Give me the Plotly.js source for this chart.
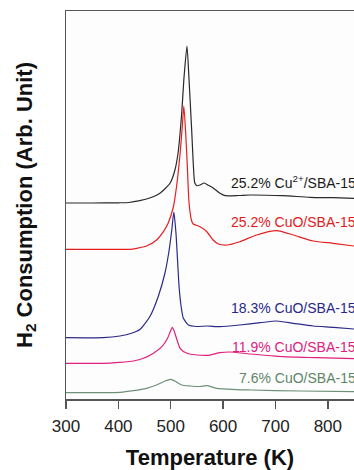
<!DOCTYPE html>
<html>
<head>
<meta charset="utf-8">
<script src="https://cdn.plot.ly/plotly-3.0.1.min.js"></script>
<style>html,body{margin:0;padding:0;background:#fff;}#chart{width:354px;height:470px;}</style>
</head>
<body>
<div id="chart"></div>
<script>
// Temperatures (K) and H2 consumption (arbitrary units, stacked offsets included)
const tCu2 = [300, 350, 400, 420, 441, 460, 480, 499, 508, 514, 521, 525, 531, 535, 540, 543, 546, 550, 556, 564, 572, 581, 594, 604, 630, 651, 714, 766, 810, 850];
const hCu2 = [196, 196, 196.2, 196.5, 198.3, 201, 206, 216, 229, 246, 286, 319, 353, 319, 269, 236, 216, 213.3, 214, 216, 213.7, 211, 205.7, 203.3, 203.5, 204, 203.3, 201.7, 201.3, 200.7];

const tCuO252 = [300, 350, 400, 422, 435, 454, 473, 486, 495, 505, 511, 518, 522, 525, 529, 532, 535, 540, 543, 556, 569, 581, 591, 607, 632, 664, 702, 734, 772, 810, 850];
const hCuO252 = [149.7, 149.7, 149.7, 149.7, 150.7, 153, 159, 167.3, 175.7, 192, 212, 246, 272, 293, 262, 229, 196, 178, 175, 172.3, 167.3, 159, 155, 154, 157.3, 164, 168.3, 164, 158, 155.7, 153];

const tCuO183 = [300, 371, 403, 425, 441, 460, 476, 489, 497, 502, 506, 510, 513, 516, 520, 524, 534, 550, 569, 594, 632, 671, 702, 734, 772, 811, 850];
const hCuO183 = [61.3, 61.3, 63, 65.7, 69.5, 82.3, 102.3, 126, 149, 169, 187, 166, 139, 112, 92, 81, 74, 72.5, 73, 72.3, 74, 76.3, 78, 75.7, 73, 71.7, 70];

const tCuO119 = [300, 371, 403, 429, 448, 467, 483, 494, 499, 503, 507, 512, 518, 531, 550, 572, 594, 613, 652, 715, 779, 850];
const hCuO119 = [35.7, 35.7, 36.7, 38, 40.7, 45.7, 52.3, 60.7, 67.3, 71.7, 67.3, 59, 50.7, 45.7, 44, 43.7, 46.3, 47, 45, 42.3, 41.3, 40.3];

const tCuO76 = [300, 403, 429, 454, 473, 489, 500, 508, 521, 537, 556, 569, 588, 652, 747, 850];
const hCuO76 = [6.3, 6.7, 8.3, 10.7, 14, 18, 19.7, 18, 14, 13, 12.5, 13.3, 10.7, 9, 8, 7.3];

const seriesNames = ['25.2% Cu<sup>2+</sup>/SBA-15', '25.2% CuO/SBA-15', '18.3% CuO/SBA-15', '11.9% CuO/SBA-15', '7.6% CuO/SBA-15'];
const labelLevels = [217.3, 177.3, 91.3, 51.7, 21.3];
const xTicks = [300, 400, 500, 600, 700, 800, 900];

const colors = ['#2a2a2a', '#e61e1e', '#2a2a8a', '#e0207e', '#6f9078'];
const labelColors = ['#1a1a1a', '#e31a1c', '#28288a', '#e0207e', '#5f8568'];
const xs = [tCu2, tCuO252, tCuO183, tCuO119, tCuO76];
const ys = [hCu2, hCuO252, hCuO183, hCuO119, hCuO76];

const FONT = 'Arial, "Liberation Sans", sans-serif';

const traces = xs.map((x, i) => ({
  x: x, y: ys[i], type: 'scatter', mode: 'lines',
  line: {color: colors[i], width: 1.2, shape: 'spline', smoothing: 0.6},
  hoverinfo: 'skip', showlegend: false
}));

const annotations = seriesNames.map((s, i) => ({
  text: s, xref: 'paper', yref: 'y', x: 1.014, y: labelLevels[i],
  xanchor: 'right', yanchor: 'middle', showarrow: false,
  font: {family: FONT, size: 14, color: labelColors[i]}
}));

const layout = {
  width: 354, height: 470,
  margin: {l: 66, r: 0, t: 11, b: 71},
  paper_bgcolor: '#ffffff', plot_bgcolor: '#fdfdfd',
  showlegend: false,
  xaxis: {
    range: [300, 850], tickmode: 'array', tickvals: xTicks, ticktext: xTicks.map(String),
    ticks: 'outside', ticklen: 8, tickwidth: 1.5, tickcolor: '#555',
    ticklabelstandoff: 3,
    showline: true, linecolor: '#555', linewidth: 1.5, mirror: true,
    showgrid: false, zeroline: false,
    tickfont: {family: FONT, size: 17, color: '#222'},
    title: {text: 'Temperature (K)', font: {family: FONT, size: 22, color: '#111', weight: 'bold'}, standoff: 15}
  },
  yaxis: {
    range: [0, 388], showticklabels: false, ticks: '',
    showline: true, linecolor: '#555', linewidth: 1.5, mirror: false,
    showgrid: false, zeroline: false,
    title: {text: 'H<sub>2</sub> Consumption (Arb. Unit)', font: {family: FONT, size: 22, color: '#111', weight: 'bold'}, standoff: 26}
  },
  annotations: annotations
};

Plotly.newPlot('chart', traces, layout, {displayModeBar: false, staticPlot: true});
</script>
</body>
</html>
